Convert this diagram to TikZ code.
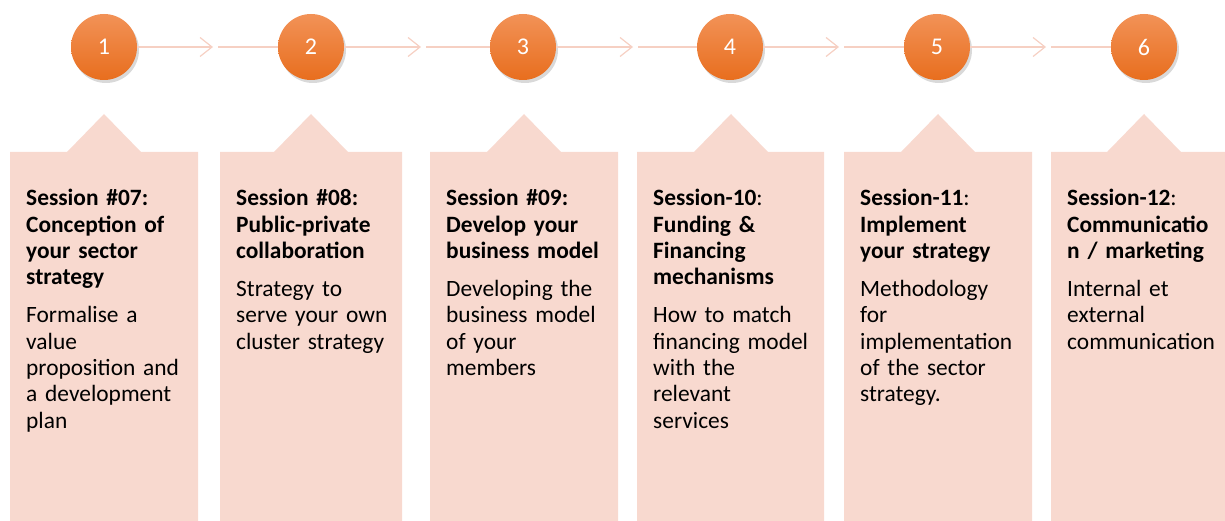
\documentclass[tikz,border=0pt]{standalone}
\usepackage{fontspec}
\setmainfont{Carlito}
\usepackage{tikz}
\usetikzlibrary{arrows.meta,shadows}

\definecolor{cardpink}{HTML}{F8D9CF}
\definecolor{linkpink}{HTML}{F6D0C3}
\definecolor{dotlight}{HTML}{F29257}
\definecolor{dotdark}{HTML}{E86E1E}

\begin{document}
\begin{tikzpicture}[
    x=1pt, y=-1pt,
    dot/.style={circle, minimum size=66pt, inner sep=0pt, top color=dotlight, bottom color=dotdark,
        text=white, font=\fontsize{24}{28}\selectfont,
        drop shadow={shadow xshift=2pt, shadow yshift=-3pt, opacity=0.3}},
    card/.style={fill=cardpink},
    link/.style={draw=linkpink, line width=1.2pt},
    chev/.style={link, -{Straight Barb[length=12pt, width=19pt, line width=1.2pt]}},
    info/.style={anchor=base west, text width=165pt, align=left, inner sep=0pt,
        font=\fontsize{23.4}{26.3}\selectfont}
]
    \useasboundingbox (0,0) rectangle (1225,521);

    % Cards with a tab pointing up
    \fill[card] (10,521) |- (67,152) -- (104,114) -- (141,152) -| (198,521) -- cycle;
    \fill[card] (220,521) |- (274,152) -- (311,114) -- (348,152) -| (402,521) -- cycle;
    \fill[card] (430,521) |- (487,152) -- (524,114) -- (561,152) -| (618,521) -- cycle;
    \fill[card] (637,521) |- (694,152) -- (731,114) -- (768,152) -| (824,521) -- cycle;
    \fill[card] (844,521) |- (901,152) -- (938,114) -- (975,152) -| (1032,521) -- cycle;
    \fill[card] (1051,521) |- (1107,152) -- (1144,114) -- (1181,152) -| (1240,521) -- cycle;

    % Steps
    \node[dot] (s1) at (104,47) {1};
    \node[dot] (s2) at (311,47) {2};
    \node[dot] (s3) at (523,47) {3};
    \node[dot] (s4) at (730,47) {4};
    \node[dot] (s5) at (937,47) {5};
    \node[dot] (s6) at (1144,47) {6};

    % Chevrons between steps
    \coordinate (m1) at (213,47);
    \coordinate (m2) at (421,47);
    \coordinate (m3) at (633,47);
    \coordinate (m4) at (839,47);
    \coordinate (m5) at (1046,47);

    \draw[chev] (s1) -- (m1);
    \draw[link] ([xshift=5pt]m1) -- (s2);
    \draw[chev] (s2) -- (m2);
    \draw[link] ([xshift=5pt]m2) -- (s3);
    \draw[chev] (s3) -- (m3);
    \draw[link] ([xshift=5pt]m3) -- (s4);
    \draw[chev] (s4) -- (m4);
    \draw[link] ([xshift=5pt]m4) -- (s5);
    \draw[chev] (s5) -- (m5);
    \draw[link] ([xshift=5pt]m5) -- (s6);

    % Session texts
    \node[info] (t1) at (26,206) {\textbf{Session \#07:}\\ \textbf{Conception of}\\ \textbf{your sector}\\ \textbf{strategy}\\[11.7pt]
        Formalise a\\ value\\ proposition and\\ a development\\ plan};
    \node[info] (t2) at (236,206) {\textbf{Session \#08:}\\ \textbf{Public-private}\\ \textbf{collaboration}\\[11.7pt]
        Strategy to\\ serve your own\\ cluster strategy};
    \node[info] (t3) at (446,206) {\textbf{Session \#09:}\\ \textbf{Develop your}\\ \textbf{business model}\\[11.7pt]
        Developing the\\ business model\\ of your\\ members};
    \node[info] (t4) at (653,206) {\textbf{Session-10}:\\ \textbf{Funding \&}\\ \textbf{Financing}\\ \textbf{mechanisms}\\[11.7pt]
        How to match\\ financing model\\ with the\\ relevant\\ services};
    \node[info] (t5) at (860,206) {\textbf{Session-11}:\\ \textbf{Implement}\\ \textbf{your strategy}\\[11.7pt]
        Methodology\\ for\\ implementation\\ of the sector\\ strategy.};
    \node[info] (t6) at (1067,206) {\textbf{Session-12}:\\ \textbf{Communicatio}\\ \textbf{n / marketing}\\[11.7pt]
        Internal et\\ external\\ communication};
\end{tikzpicture}
\end{document}
